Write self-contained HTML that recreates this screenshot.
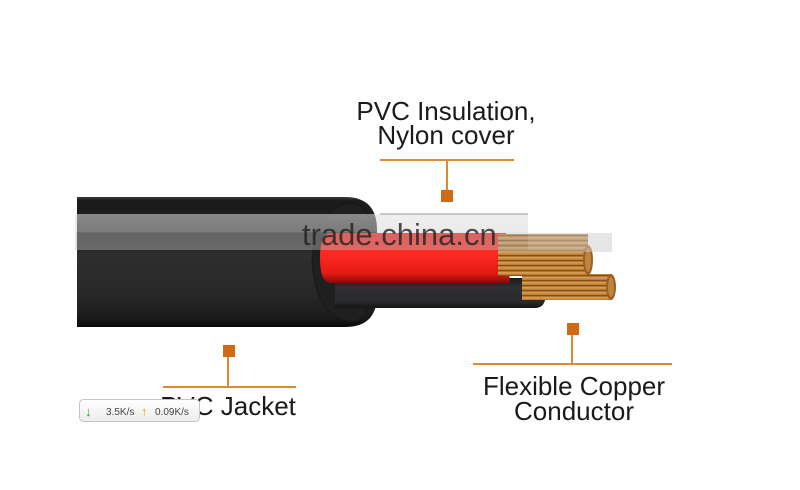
<!DOCTYPE html>
<html><head><meta charset="utf-8"><style>
html,body{margin:0;padding:0;background:#fff;}
svg{display:block;}
</style></head><body>
<svg width="800" height="490" viewBox="0 0 800 490" xmlns="http://www.w3.org/2000/svg">
<defs>
<linearGradient id="jk" x1="0" y1="0" x2="0" y2="1">
<stop offset="0" stop-color="#3a3a3a"/>
<stop offset="0.03" stop-color="#1b1b1b"/>
<stop offset="0.2" stop-color="#1c1c1c"/>
<stop offset="0.45" stop-color="#2e2e2e"/>
<stop offset="0.75" stop-color="#282828"/>
<stop offset="0.93" stop-color="#1a1a1a"/>
<stop offset="1" stop-color="#080808"/>
</linearGradient>
<linearGradient id="red" x1="0" y1="0" x2="0" y2="1">
<stop offset="0" stop-color="#e8241c"/>
<stop offset="0.4" stop-color="#ff2a22"/>
<stop offset="0.8" stop-color="#e41a14"/>
<stop offset="1" stop-color="#8a0806"/>
</linearGradient>
<linearGradient id="blk" x1="0" y1="0" x2="0" y2="1">
<stop offset="0" stop-color="#1a1a1c"/>
<stop offset="0.3" stop-color="#303032"/>
<stop offset="0.8" stop-color="#2a2a2c"/>
<stop offset="1" stop-color="#141416"/>
</linearGradient>
<pattern id="cu" width="10" height="5" patternUnits="userSpaceOnUse">
<rect width="10" height="5" fill="#bd7f34"/>
<rect y="0" width="10" height="1.2" fill="#84501a"/>
<rect y="2.2" width="10" height="1.3" fill="#dba25a"/>
</pattern>
<linearGradient id="band" x1="0" y1="0" x2="0" y2="1">
<stop offset="0" stop-color="rgb(225,225,225)" stop-opacity="0.55"/>
<stop offset="0.5" stop-color="rgb(215,215,215)" stop-opacity="0.5"/>
<stop offset="0.52" stop-color="rgb(190,190,190)" stop-opacity="0.42"/>
<stop offset="1" stop-color="rgb(190,190,190)" stop-opacity="0.42"/>
</linearGradient>
<linearGradient id="wg" x1="0" y1="0" x2="0" y2="1">
<stop offset="0" stop-color="#ffffff"/>
<stop offset="1" stop-color="#ececec"/>
</linearGradient>
</defs>

<!-- jacket -->
<path d="M77,197 H345 Q377,197 377,230 V295 Q377,327 345,327 H77 Z" fill="url(#jk)"/>
<!-- end face -->
<path d="M352,203 Q376,206 376,262 Q376,318 352,322 Q316,318 312,262 Q316,206 352,203 Z" fill="#1f1f1f" stroke="#171717" stroke-width="1"/>

<!-- black inner wire -->
<path d="M335,278 H535 Q546,278 546,293 Q546,308 535,308 H335 Z" fill="url(#blk)"/>
<!-- copper 2 -->
<rect x="522" y="274" width="90" height="26" fill="url(#cu)"/>
<ellipse cx="611" cy="287" rx="5" ry="13" fill="#9a6122"/>
<ellipse cx="611" cy="287" rx="3" ry="10" fill="#c08440"/>

<!-- red wire -->
<path d="M331,233 H506 L510,283 H331 Q320,283 320,258 Q320,233 331,233 Z" fill="url(#red)"/>
<!-- copper 1 -->
<rect x="498" y="234" width="90" height="42" fill="url(#cu)"/>
<ellipse cx="588" cy="260" rx="5" ry="15" fill="#9a6122"/>
<ellipse cx="588" cy="260" rx="3" ry="12" fill="#c08440"/>

<!-- watermark band -->
<rect x="75" y="214" width="453" height="36" fill="url(#band)"/>
<rect x="380" y="213.5" width="148" height="1" fill="#9a9a9a"/>
<rect x="528" y="233" width="84" height="19" fill="rgb(205,205,205)" fill-opacity="0.5"/>
<rect x="498" y="250" width="30" height="2" fill="rgb(205,205,205)" fill-opacity="0.5"/>
<text x="302" y="245" font-family="Liberation Sans, Arial, sans-serif" font-size="31" fill="#1e1e1e" fill-opacity="0.78">trade.china.cn</text>

<!-- labels -->
<g font-family="Liberation Sans, Arial, sans-serif" font-size="26" fill="#1a1a1a" text-anchor="middle">
<text x="446" y="120">PVC Insulation,</text>
<text x="446" y="144">Nylon cover</text>
<text x="228" y="415">PVC Jacket</text>
<text x="574" y="395">Flexible Copper</text>
<text x="574" y="420">Conductor</text>
</g>

<!-- callouts -->
<g stroke="#dc8a35" stroke-width="2" fill="none">
<line x1="380" y1="160" x2="514" y2="160"/>
<line x1="447" y1="160" x2="447" y2="191"/>
<line x1="163" y1="387" x2="296" y2="387"/>
<line x1="228" y1="357" x2="228" y2="387"/>
<line x1="473" y1="364" x2="672" y2="364"/>
<line x1="572" y1="335" x2="572" y2="364"/>
</g>
<g fill="#d06a14">
<rect x="441" y="190" width="12" height="12"/>
<rect x="223" y="345" width="12" height="12"/>
<rect x="567" y="323" width="12" height="12"/>
</g>

<!-- status widget -->
<rect x="79.5" y="399.5" width="120" height="22" rx="4" fill="url(#wg)" stroke="#c4c4c4"/>
<g font-family="Liberation Sans, DejaVu Sans, sans-serif" font-size="10" fill="#444">
<text x="85" y="416" fill="#2a9a2a" font-weight="bold" font-size="13">↓</text>
<text x="106" y="415">3.5K/s</text>
<text x="141" y="416" fill="#e0b000" font-weight="bold" font-size="13">↑</text>
<text x="155" y="415">0.09K/s</text>
</g>
</svg>
</body></html>
